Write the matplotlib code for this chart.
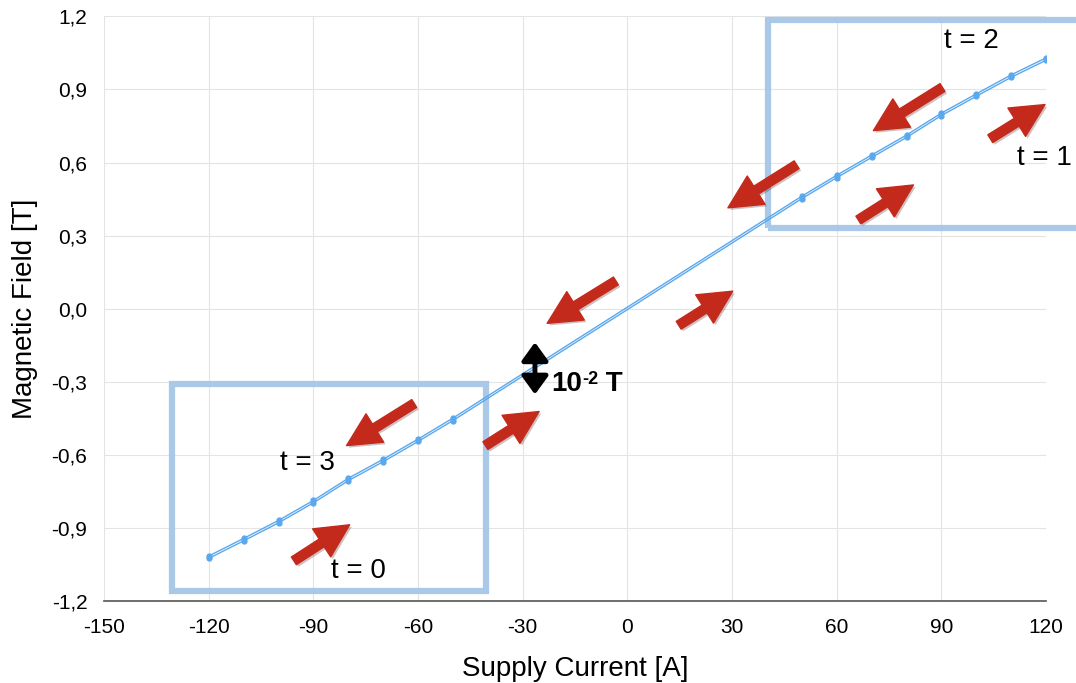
import matplotlib.pyplot as plt
import matplotlib.patheffects as pe
from matplotlib.patches import Rectangle

plt.rcParams['font.family'] = ['Liberation Sans', 'DejaVu Sans']
plt.rcParams['axes.unicode_minus'] = False

# measured points (ramp up), ramp down sits ~1e-2 T above
current = [-120, -110, -100, -90, -80, -70, -60, -50, 50, 60, 70, 80, 90, 100, 110, 120]
field_up = [-1.025, -0.953, -0.879, -0.797, -0.706, -0.628, -0.545, -0.459,
            0.452, 0.538, 0.621, 0.703, 0.793, 0.872, 0.950, 1.020]
field_down = [-1.015, -0.943, -0.869, -0.787, -0.696, -0.618, -0.535, -0.449,
              0.462, 0.548, 0.631, 0.713, 0.803, 0.882, 0.960, 1.030]

x_ticks = [-150, -120, -90, -60, -30, 0, 30, 60, 90, 120]
y_ticks = [-1.2, -0.9, -0.6, -0.3, 0.0, 0.3, 0.6, 0.9, 1.2]

# red direction arrows: (tail, head)
arrows_up = [((-95.6, -1.035), (-79.6, -0.887)),
             ((-40.7, -0.562), (-25.3, -0.422)),
             ((14.7, -0.068), (30.2, 0.072)),
             ((66.2, 0.364), (82.0, 0.508)),
             ((104.0, 0.698), (119.7, 0.838))]
arrows_down = [((90.3, 0.908), (70.5, 0.731)),
               ((48.5, 0.591), (28.8, 0.414)),
               ((-3.3, 0.114), (-23.0, -0.060)),
               ((-61.1, -0.389), (-80.5, -0.562))]

LINE = '#5aa8ee'
BOX = '#a6c6e8'
RED = '#c42a1c'

fig = plt.figure(figsize=(10.76, 6.83), dpi=100)
ax = fig.add_axes([0.0967, 0.12, 0.8755, 0.856])

ax.plot(current, field_up, color=LINE, lw=1.0, marker='o', ms=3.5, zorder=3)
ax.plot(current, field_down, color=LINE, lw=1.0, marker='o', ms=3.5, zorder=3)

ax.set_xlim(-150, 120)
ax.set_ylim(-1.2, 1.2)
ax.set_xticks(x_ticks)
ax.set_yticks(y_ticks)
ax.set_yticklabels([f'{v:.1f}'.replace('.', ',') for v in y_ticks])
ax.tick_params(length=0, labelsize=15)
ax.tick_params(axis='x', pad=12)
ax.tick_params(axis='y', pad=12)
ax.grid(True, color='#e4e4e4', lw=0.8)
ax.set_axisbelow(True)
for s in ['top', 'right', 'left']:
    ax.spines[s].set_visible(False)
ax.spines['bottom'].set_color('#555555')
ax.spines['bottom'].set_linewidth(1.2)

ax.set_xlabel('Supply Current [A]', fontsize=20, labelpad=14)
ax.set_ylabel('Magnetic Field [T]', fontsize=20, labelpad=10)

# highlight boxes
ax.add_patch(Rectangle((-130.5, -1.159), 90.0, 0.852, fill=False, ec=BOX,
                       lw=4.5, alpha=0.95, zorder=2))
ax.add_patch(Rectangle((40.2, 0.331), 100, 0.855, fill=False, ec=BOX,
                       lw=4.5, alpha=0.95, zorder=2, clip_on=False))

shadow = [pe.SimplePatchShadow(offset=(1.5, -1.5), alpha=0.25), pe.Normal()]
for tail, head in arrows_up + arrows_down:
    ax.annotate('', xy=head, xytext=tail, annotation_clip=False,
                arrowprops=dict(arrowstyle='simple,head_length=1.2,head_width=1.2,tail_width=0.33',
                                color=RED, mutation_scale=20, shrinkA=0, shrinkB=0,
                                path_effects=shadow), zorder=4)

ax.text(-77, -1.077, 't = 0', fontsize=20, ha='center', va='center')
ax.text(-91.6, -0.632, 't = 3', fontsize=20, ha='center', va='center')
ax.text(98.6, 1.097, 't = 2', fontsize=20, ha='center', va='center')
ax.text(111.6, 0.62, 't = 1', fontsize=20, ha='left', va='center', clip_on=False)

ax.annotate('', xy=(-26.5, -0.138), xytext=(-26.5, -0.352),
            arrowprops=dict(arrowstyle='<|-|>,head_length=0.55,head_width=0.4',
                            color='black', lw=3.5, mutation_scale=20,
                            shrinkA=0, shrinkB=0), zorder=5)
t10 = ax.text(-21.8, -0.31, '10', fontsize=20, fontweight='bold',
              ha='left', va='center')
sup = ax.annotate('-2', xy=(1.0, 1.0), xycoords=t10, fontsize=13,
                  fontweight='bold', ha='left', va='top')
ax.annotate(' T', xy=(1.0, 0.5), xycoords=(sup, t10), fontsize=20,
            fontweight='bold', ha='left', va='center')

fig.savefig('out.png', dpi=100)
